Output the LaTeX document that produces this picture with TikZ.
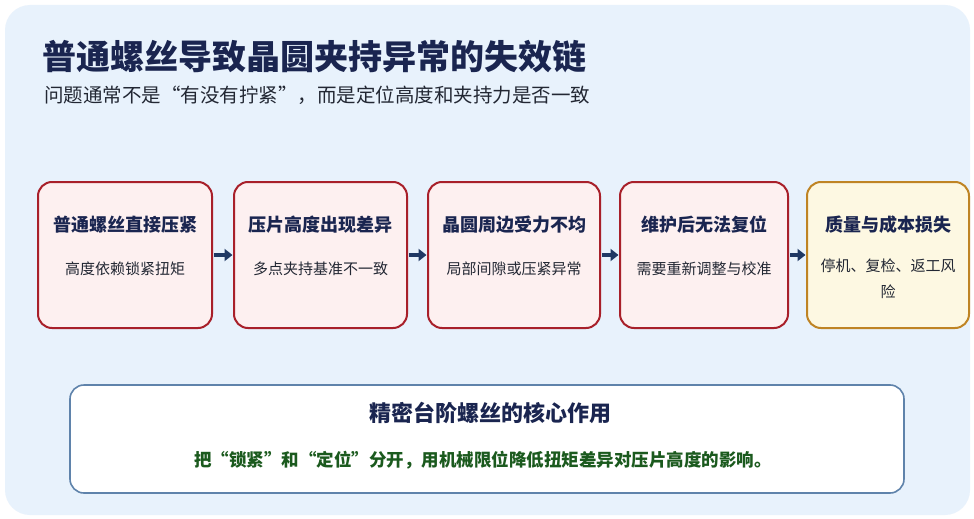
\documentclass[tikz,border=0pt]{standalone}
\usepackage{fontspec}
\setmainfont{Noto Sans CJK SC}
\usetikzlibrary{arrows.meta}
\definecolor{panelbg}{HTML}{E8F2FC}
\definecolor{navy}{HTML}{1A2550}
\definecolor{redline}{HTML}{A8202A}
\definecolor{redfill}{HTML}{FDF0F0}
\definecolor{goldline}{HTML}{BF8424}
\definecolor{goldfill}{HTML}{FDF8E2}
\definecolor{arrowc}{HTML}{1F3864}
\definecolor{blueline}{HTML}{5F83AB}
\definecolor{greentext}{HTML}{1B5A1E}
\definecolor{subgray}{HTML}{222733}
\begin{document}
\begin{tikzpicture}[x=1pt,y=-1pt,
  stepbox/.style={draw=redline,fill=redfill,line width=2pt,rounded corners=14pt,minimum height=146pt,inner sep=0pt},
  lossbox/.style={stepbox,draw=goldline,fill=goldfill},
  steptitle/.style={font=\bfseries\fontsize{18}{22}\selectfont,text=navy,inner sep=0pt},
  stepsub/.style={font=\fontsize{15}{26}\selectfont,text=subgray,inner sep=0pt,align=center},
  flow/.style={draw=arrowc,line width=3.2pt,-{Triangle[length=8pt,width=12pt]}}
]
\useasboundingbox (0,0) rectangle (974,519);
\fill[white] (0,0) rectangle (974,519);
\fill[panelbg,rounded corners=25pt] (5,5) rectangle (970,515);

\node[anchor=west,inner sep=0pt,text=navy,font=\bfseries\fontsize{34}{40}\selectfont] (title) at (42,57) {普通螺丝导致晶圆夹持异常的失效链};
\node[anchor=west,inner sep=0pt,text=subgray,font=\fontsize{19.5}{24}\selectfont] (subtitle) at (44,95) {问题通常不是“有没有拧紧”，而是定位高度和夹持力是否一致};

\node[stepbox,minimum width=174pt] (b1) at (125,255) {};
\node[stepbox,minimum width=173pt] (b2) at (320.5,255) {};
\node[stepbox,minimum width=172pt] (b3) at (514,255) {};
\node[stepbox,minimum width=168pt] (b4) at (704,255) {};
\node[lossbox,minimum width=162pt] (b5) at (888,255) {};

\node[steptitle] (t1) at (125,225) {普通螺丝直接压紧};
\node[stepsub] (s1) at (125,269) {高度依赖锁紧扭矩};
\node[steptitle] (t2) at (320.5,225) {压片高度出现差异};
\node[stepsub] (s2) at (320.5,269) {多点夹持基准不一致};
\node[steptitle] (t3) at (514,225) {晶圆周边受力不均};
\node[stepsub] (s3) at (514,269) {局部间隙或压紧异常};
\node[steptitle] (t4) at (704,225) {维护后无法复位};
\node[stepsub] (s4) at (704,269) {需要重新调整与校准};
\node[steptitle] (t5) at (888,225) {质量与成本损失};
\node[stepsub,anchor=north] (s5) at (888,259) {停机、复检、返工风\\险};

\draw[flow] ([xshift=1pt]b1.east) -- ([xshift=-0.5pt]b2.west);
\draw[flow] ([xshift=1pt]b2.east) -- ([xshift=-0.5pt]b3.west);
\draw[flow] ([xshift=1pt]b3.east) -- ([xshift=-0.5pt]b4.west);
\draw[flow] ([xshift=1pt]b4.east) -- ([xshift=-0.5pt]b5.west);

\node[draw=blueline,fill=white,line width=1.6pt,rounded corners=14pt,minimum width=834pt,minimum height=108pt,inner sep=0pt] (core) at (487,439) {};
\node[inner sep=0pt,text=navy,font=\bfseries\fontsize{22}{26}\selectfont] (coretitle) at (490,413) {精密台阶螺丝的核心作用};
\node[inner sep=0pt,text=greentext,font=\bfseries\fontsize{17.5}{22}\selectfont] (coretext) at (483,460) {把“锁紧”和“定位”分开，用机械限位降低扭矩差异对压片高度的影响。};
\end{tikzpicture}
\end{document}
